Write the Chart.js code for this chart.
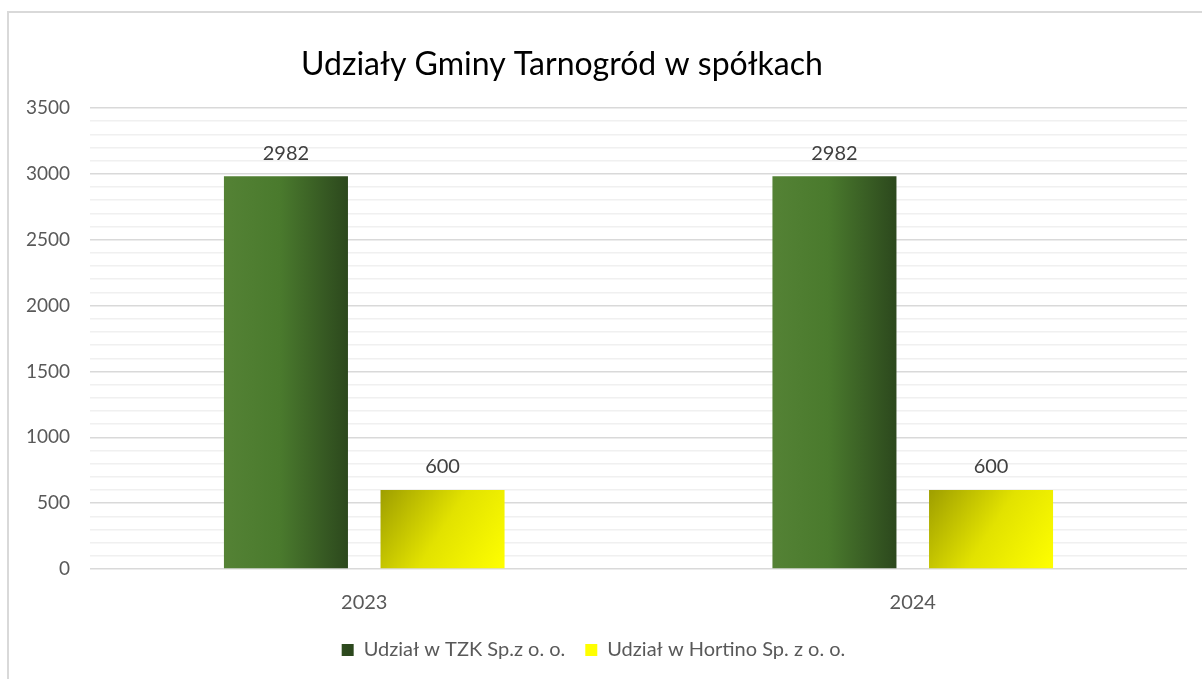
<!DOCTYPE html>
<html>
<head>
<meta charset="utf-8">
<script src="https://cdn.jsdelivr.net/npm/chart.js@4.4.1/dist/chart.umd.min.js"></script>
<style>
  html, body { margin: 0; padding: 0; background: #ffffff; }
  #wrap { position: relative; width: 1202px; height: 679px; overflow: hidden; }
  #frame { position: absolute; left: 7px; top: 11px; width: 1202px; height: 679px;
           border-left: 2px solid #D9D9D9; border-top: 2px solid #D9D9D9; box-sizing: border-box; pointer-events: none; }
  canvas { position: absolute; left: 0; top: 0; }
</style>
</head>
<body>
<div id="wrap">
  <canvas id="c" width="1202" height="679"></canvas>
  <div id="frame"></div>
</div>
<script>
// ---- data ----
const chartTitle = 'Udziały Gminy Tarnogród w spółkach';
const categories = ['2023', '2024'];
const seriesNames = ['Udział w TZK Sp.z o. o.', 'Udział w Hortino Sp. z o. o.'];
const tzkValues = [2982, 2982];
const hortinoValues = [600, 600];
const yTickLabels = [0, 500, 1000, 1500, 2000, 2500, 3000, 3500];

const FONT = "Lato, 'Open Sans', 'DejaVu Sans', sans-serif";
const CAT_PCT = 0.571;
const BAR_PCT = 0.792;

function barGeom(ctx) {
  const chart = ctx.chart;
  const xs = chart.scales.x, ys = chart.scales.y;
  if (!xs || !ys) return null;
  const i = ctx.dataIndex, d = ctx.datasetIndex;
  const center = xs.getPixelForValue(i);
  const catW = xs.width / categories.length;
  const slot = catW * CAT_PCT / 2;
  const cx = center + (d === 0 ? -slot / 2 : slot / 2);
  const w = slot * BAR_PCT;
  const v = ctx.dataset.data[i];
  return { left: cx - w / 2, right: cx + w / 2, top: ys.getPixelForValue(v), base: ys.getPixelForValue(0) };
}

function greenFill(ctx) {
  if (ctx.type !== 'data' || ctx.dataIndex === undefined) return '#447028';
  const g = barGeom(ctx);
  if (!g || !isFinite(g.left)) return '#447028';
  const gr = ctx.chart.ctx.createLinearGradient(g.left, 0, g.right, 0);
  gr.addColorStop(0, '#548235');
  gr.addColorStop(0.45, '#4A7A2D');
  gr.addColorStop(1, '#2C481D');
  return gr;
}
function yellowFill(ctx) {
  if (ctx.type !== 'data' || ctx.dataIndex === undefined) return '#D6D600';
  const g = barGeom(ctx);
  if (!g || !isFinite(g.left)) return '#D6D600';
  const gr = ctx.chart.ctx.createLinearGradient(g.left, g.top, g.right, g.base);
  gr.addColorStop(0, '#9E9E00');
  gr.addColorStop(0.5, '#E2E200');
  gr.addColorStop(1, '#FFFF00');
  return gr;
}

const titlePlugin = {
  id: 'customTitle',
  afterDraw(chart) {
    const c = chart.ctx;
    c.save();
    c.font = '32px ' + FONT;
    c.fillStyle = '#000000';
    c.textAlign = 'center';
    c.textBaseline = 'middle';
    c.fillText(chartTitle, 562, 65);
    c.restore();
  }
};

const valueLabels = {
  id: 'valueLabels',
  afterDatasetsDraw(chart) {
    const c = chart.ctx;
    c.save();
    c.font = '20px ' + FONT;
    c.fillStyle = '#404040';
    c.textAlign = 'center';
    c.textBaseline = 'middle';
    chart.data.datasets.forEach((ds, di) => {
      const meta = chart.getDatasetMeta(di);
      meta.data.forEach((el, i) => {
        c.fillText(String(ds.data[i]), el.x, el.y - 23);
      });
    });
    c.restore();
  }
};

new Chart(document.getElementById('c'), {
  type: 'bar',
  data: {
    labels: categories,
    datasets: [
      { label: seriesNames[0], data: tzkValues, backgroundColor: greenFill, borderWidth: 0 },
      { label: seriesNames[1], data: hortinoValues, backgroundColor: yellowFill, borderWidth: 0 }
    ]
  },
  options: {
    responsive: false,
    animation: false,
    devicePixelRatio: 1,
    layout: { padding: { top: 108, left: 0, right: 15, bottom: 9 } },
    datasets: { bar: { categoryPercentage: CAT_PCT, barPercentage: BAR_PCT } },
    plugins: {
      title: { display: false },
      tooltip: { enabled: false },
      legend: {
        position: 'bottom',
        labels: {
          font: { family: FONT, size: 20 },
          color: '#595959',
          boxWidth: 12,
          boxHeight: 12,
          padding: 20
        }
      }
    },
    scales: {
      x: {
        afterFit(scale) { scale.height = 51; },
        grid: { display: false, drawTicks: false },
        border: { display: false },
        ticks: { font: { family: FONT, size: 20 }, color: '#595959', padding: 22 }
      },
      y: {
        min: 0,
        max: 3500,
        afterFit(scale) { scale.width = 90; },
        afterBuildTicks(scale) {
          const t = [];
          for (let v = 0; v <= 3500; v += 100) t.push({ value: v });
          scale.ticks = t;
        },
        ticks: {
          autoSkip: false,
          font: { family: FONT, size: 19 },
          color: '#595959',
          padding: 20,
          callback: (v) => (yTickLabels.includes(v) ? String(v) : '')
        },
        border: { display: false },
        grid: {
          drawTicks: false,
          color: (ctx) => (ctx.tick && ctx.tick.value % 500 === 0 ? '#D9D9D9' : '#F0F0F0'),
          lineWidth: 1.5
        }
      }
    }
  },
  plugins: [titlePlugin, valueLabels]
});
</script>
</body>
</html>
